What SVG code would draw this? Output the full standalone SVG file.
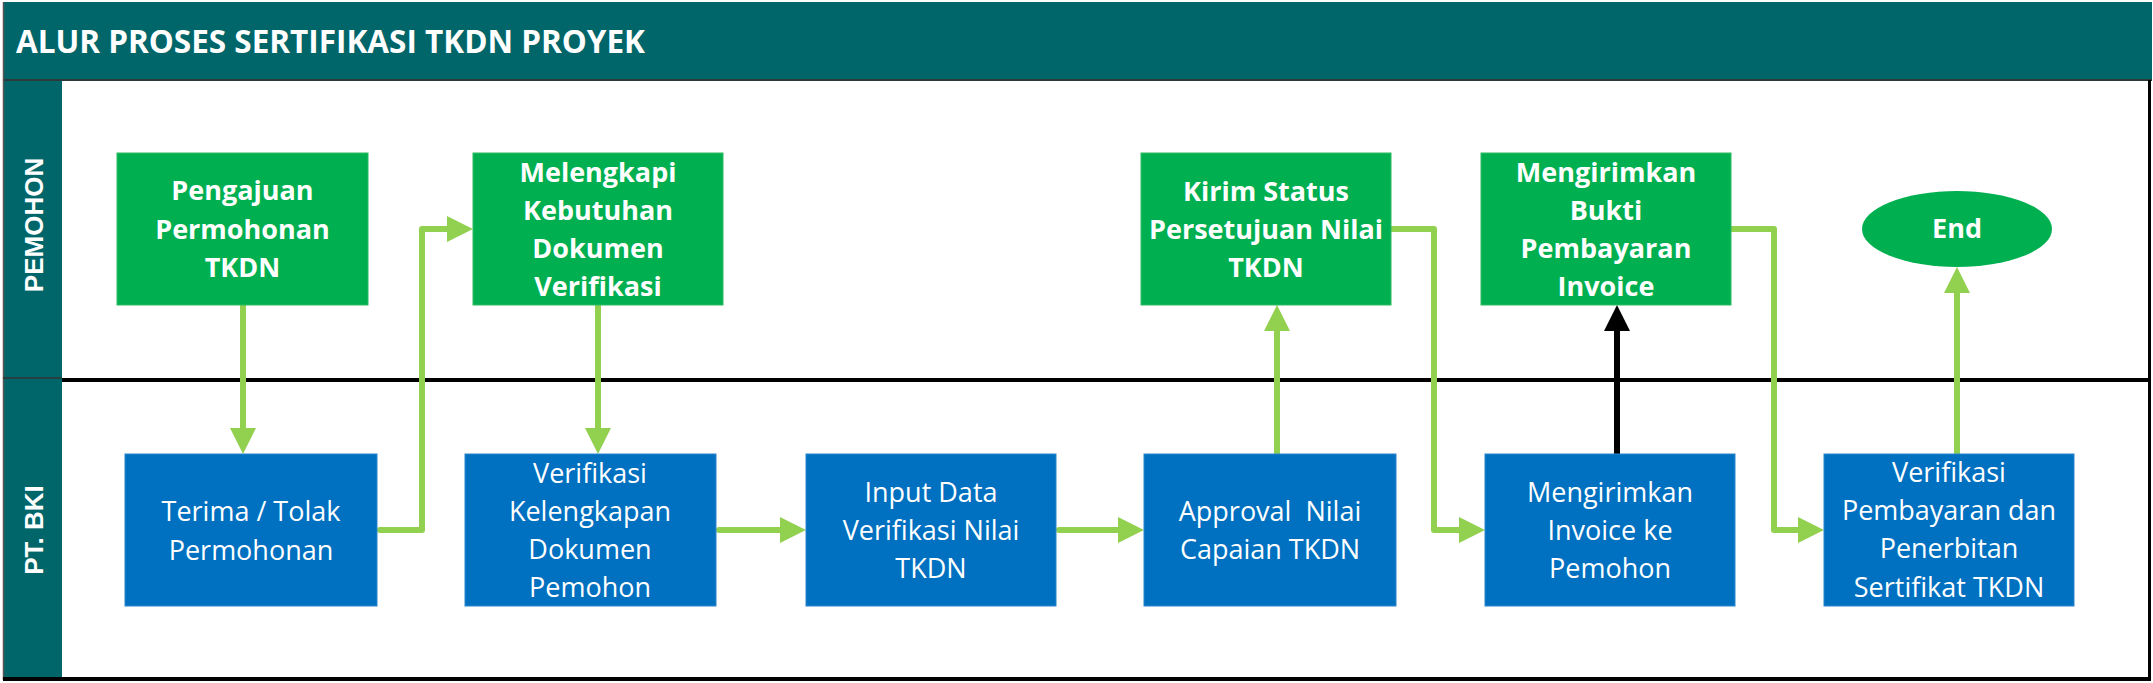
<svg xmlns="http://www.w3.org/2000/svg" width="2153" height="683" viewBox="0 0 2153 683">
<style>
.band{fill:#00666A}
.gbox{fill:#00B050;stroke:#2CBB63;stroke-width:1}
.bbox{fill:#0070C0;stroke:#2A86CC;stroke-width:1}
.gt{font-family:"Open Sans","Noto Sans",sans-serif;font-weight:bold;font-size:27px;fill:#fff;text-anchor:middle}
.bt{font-family:"Open Sans","Noto Sans",sans-serif;font-size:27px;fill:#fff;text-anchor:middle}
.lane{font-family:"Liberation Sans",Arial,sans-serif;font-weight:bold;font-size:26px;fill:#fff;text-anchor:middle}
.cg{fill:none;stroke:#92D050;stroke-width:6;stroke-linecap:round;stroke-linejoin:round}
.ck{fill:none;stroke:#000;stroke-width:6;stroke-linecap:round;stroke-linejoin:round}
</style>
<defs>
<marker id="ag" viewBox="-6 -13 26 26" refX="0" refY="0" markerWidth="26" markerHeight="26" markerUnits="userSpaceOnUse" orient="auto">
<path d="M-6,-13 L20,0 L-6,13 Z" fill="#92D050"/>
</marker>
<marker id="ak" viewBox="-6 -13 26 26" refX="0" refY="0" markerWidth="26" markerHeight="26" markerUnits="userSpaceOnUse" orient="auto">
<path d="M-6,-13 L20,0 L-6,13 Z" fill="#000"/>
</marker>
</defs>
<rect x="0" y="0" width="2153" height="683" fill="#fff"/>
<g id="frame">
<rect class="band" x="3" y="2" width="2149" height="78"/>
<rect class="band" x="3" y="80" width="59" height="600"/>
<line x1="3" y1="80" x2="2152" y2="80" stroke="#2a3a3a" stroke-width="2"/>
<line x1="3.5" y1="2" x2="3.5" y2="680" stroke="#555" stroke-width="1.5"/>
<line x1="3" y1="378" x2="62" y2="378" stroke="#333" stroke-width="1.5"/>
<line x1="62" y1="380" x2="2151" y2="380" stroke="#000" stroke-width="4"/>
<line x1="2149.5" y1="80" x2="2149.5" y2="680" stroke="#000" stroke-width="3"/>
<line x1="3" y1="679" x2="2151" y2="679" stroke="#000" stroke-width="4"/>
<text x="16" y="53" font-family="'Open Sans','Noto Sans',sans-serif" font-weight="bold" font-size="33" fill="#fff" textLength="629" lengthAdjust="spacingAndGlyphs">ALUR PROSES SERTIFIKASI TKDN PROYEK</text>
<text class="lane" transform="translate(43,225) rotate(-90)">PEMOHON</text>
<text class="lane" transform="translate(43,530) rotate(-90)">PT. BKI</text>
</g>
<g id="connectors">
<path class="cg" d="M243,305 L243,434" marker-end="url(#ag)"/>
<path class="cg" d="M380,530 L422,530 L422,229 L453,229" marker-end="url(#ag)"/>
<path class="cg" d="M598,305 L598,434" marker-end="url(#ag)"/>
<path class="cg" d="M719,530 L786,530" marker-end="url(#ag)"/>
<path class="cg" d="M1059,530 L1124,530" marker-end="url(#ag)"/>
<path class="cg" d="M1277,454 L1277,325" marker-end="url(#ag)"/>
<path class="cg" d="M1391,229 L1434,229 L1434,530 L1465,530" marker-end="url(#ag)"/>
<path class="ck" d="M1617,454 L1617,325" marker-end="url(#ak)"/>
<path class="cg" d="M1731,229 L1774,229 L1774,530 L1804,530" marker-end="url(#ag)"/>
<path class="cg" d="M1957,454 L1957,287" marker-end="url(#ag)"/>
</g>
<g id="g1">
<rect class="gbox" x="117" y="153" width="251" height="152"/>
<text class="gt" x="242.5" y="200">Pengajuan</text>
<text class="gt" x="242.5" y="239">Permohonan</text>
<text class="gt" x="242.5" y="277">TKDN</text>
</g>
<g id="g2">
<rect class="gbox" x="473" y="153" width="250" height="152"/>
<text class="gt" x="598" y="182">Melengkapi</text>
<text class="gt" x="598" y="220">Kebutuhan</text>
<text class="gt" x="598" y="258">Dokumen</text>
<text class="gt" x="598" y="296">Verifikasi</text>
</g>
<g id="g3">
<rect class="gbox" x="1141" y="153" width="250" height="152"/>
<text class="gt" x="1266" y="201">Kirim Status</text>
<text class="gt" x="1266" y="239">Persetujuan Nilai</text>
<text class="gt" x="1266" y="277">TKDN</text>
</g>
<g id="g4">
<rect class="gbox" x="1481" y="153" width="250" height="152"/>
<text class="gt" x="1606" y="182">Mengirimkan</text>
<text class="gt" x="1606" y="220">Bukti</text>
<text class="gt" x="1606" y="258">Pembayaran</text>
<text class="gt" x="1606" y="296">Invoice</text>
</g>
<g id="end">
<ellipse cx="1957" cy="229" rx="95" ry="38" fill="#00B050"/>
<text class="gt" x="1957" y="238">End</text>
</g>
<g id="b1">
<rect class="bbox" x="125" y="454" width="252" height="152"/>
<text class="bt" x="251" y="521">Terima / Tolak</text>
<text class="bt" x="251" y="560">Permohonan</text>
</g>
<g id="b2">
<rect class="bbox" x="465" y="454" width="251" height="152"/>
<text class="bt" x="590" y="483">Verifikasi</text>
<text class="bt" x="590" y="521">Kelengkapan</text>
<text class="bt" x="590" y="559">Dokumen</text>
<text class="bt" x="590" y="597">Pemohon</text>
</g>
<g id="b3">
<rect class="bbox" x="806" y="454" width="250" height="152"/>
<text class="bt" x="931" y="502">Input Data</text>
<text class="bt" x="931" y="540">Verifikasi Nilai</text>
<text class="bt" x="931" y="578">TKDN</text>
</g>
<g id="b4">
<rect class="bbox" x="1144" y="454" width="252" height="152"/>
<text class="bt" x="1270" y="521" xml:space="preserve">Approval  Nilai</text>
<text class="bt" x="1270" y="559">Capaian TKDN</text>
</g>
<g id="b5">
<rect class="bbox" x="1485" y="454" width="250" height="152"/>
<text class="bt" x="1610" y="502">Mengirimkan</text>
<text class="bt" x="1610" y="540">Invoice ke</text>
<text class="bt" x="1610" y="578">Pemohon</text>
</g>
<g id="b6">
<rect class="bbox" x="1824" y="454" width="250" height="152"/>
<text class="bt" x="1949" y="482">Verifikasi</text>
<text class="bt" x="1949" y="520">Pembayaran dan</text>
<text class="bt" x="1949" y="558">Penerbitan</text>
<text class="bt" x="1949" y="597">Sertifikat TKDN</text>
</g>
</svg>
